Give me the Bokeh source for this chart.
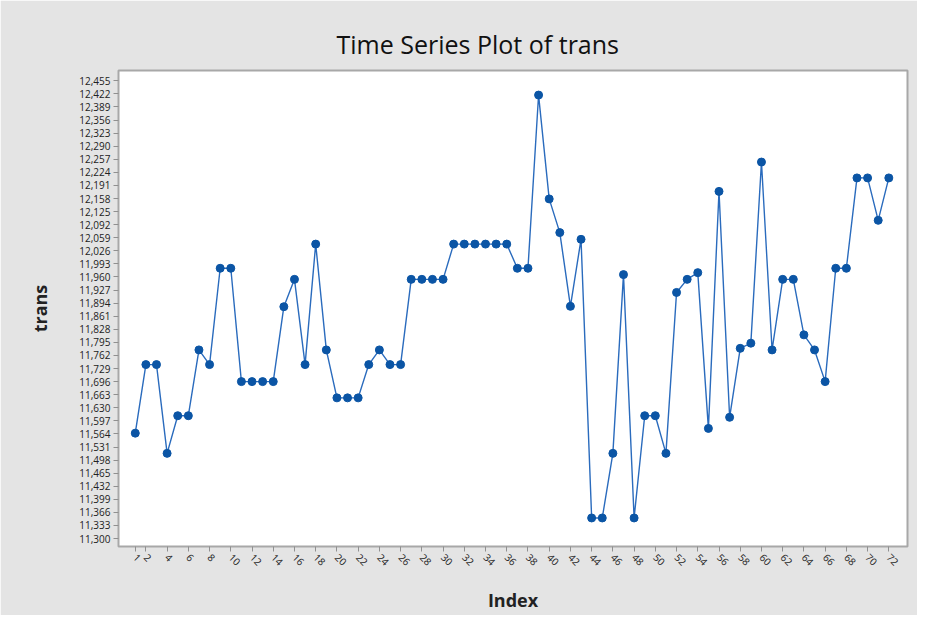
from bokeh.plotting import figure
from bokeh.models import FixedTicker, NumeralTickFormatter, Range1d, Title
from bokeh.embed import file_html
from bokeh.resources import INLINE
import math

index = list(range(1, 73))
trans = [11566, 11739, 11739, 11515, 11610, 11610, 11776, 11739, 11982, 11982,
         11696, 11696, 11696, 11696, 11885, 11954, 11739, 12043, 11776, 11655,
         11655, 11655, 11739, 11776, 11739, 11739, 11954, 11954, 11954, 11954,
         12043, 12043, 12043, 12043, 12043, 12043, 11982, 11982, 12419, 12157,
         12072, 11886, 12055, 11352, 11352, 11515, 11966, 11352, 11610, 11610,
         11515, 11921, 11954, 11971, 11578, 12176, 11606, 11780, 11793, 12250,
         11776, 11954, 11954, 11814, 11776, 11696, 11982, 11982, 12210, 12210,
         12103, 12210]

y_ticks = [11300 + 33 * k for k in range(36)]
x_ticks = [1] + list(range(2, 73, 2))

BG = "#e4e4e4"

p = figure(width=917, height=615, output_backend="svg", toolbar_location=None,
           x_range=Range1d(-0.58, 73.76), y_range=Range1d(11280, 12481),
           min_border_left=118, min_border_right=10, min_border_top=70,
           min_border_bottom=68)
p.background_fill_color = "white"
p.border_fill_color = BG
p.outline_line_color = "#a8a8a8"
p.outline_line_width = 2
p.grid.visible = False

p.title = None
t = Title(text="Time Series Plot of trans", align="left", text_font="Open Sans",
          text_font_size="25px", text_font_style="normal", text_color="#111111",
          offset=218, standoff=19)
p.add_layout(t, "above")

p.line(index, trans, line_color="#2a6bbd", line_width=1.4)
p.scatter(index, trans, size=8, fill_color="#0b55a5", line_color="#0b55a5")

p.yaxis.ticker = FixedTicker(ticks=y_ticks)
p.yaxis.formatter = NumeralTickFormatter(format="0,0")
p.xaxis.ticker = FixedTicker(ticks=x_ticks)

for ax in (p.xaxis[0], p.yaxis[0]):
    ax.axis_line_color = "#a8a8a8"
    ax.major_tick_line_color = "#909090"
    ax.minor_tick_line_color = None
    ax.major_tick_in = 0
    ax.major_tick_out = 5
    ax.major_label_text_font = "Open Sans"
    ax.major_label_text_font_size = "10px"
    ax.major_label_text_color = "#222222"
    ax.axis_label_text_font = "Open Sans"
    ax.axis_label_text_font_size = "18px"
    ax.axis_label_text_font_style = "bold"
    ax.axis_label_text_color = "#222222"

p.xaxis.axis_label = "Index"
p.yaxis.axis_label = "trans"
p.xaxis.major_label_orientation = -math.pi / 4
p.yaxis.major_label_standoff = 3
p.xaxis.major_label_standoff = 4
p.xaxis.axis_label_standoff = 16
p.yaxis.axis_label_standoff = 24

open("out.html", "w").write(file_html(p, INLINE))
